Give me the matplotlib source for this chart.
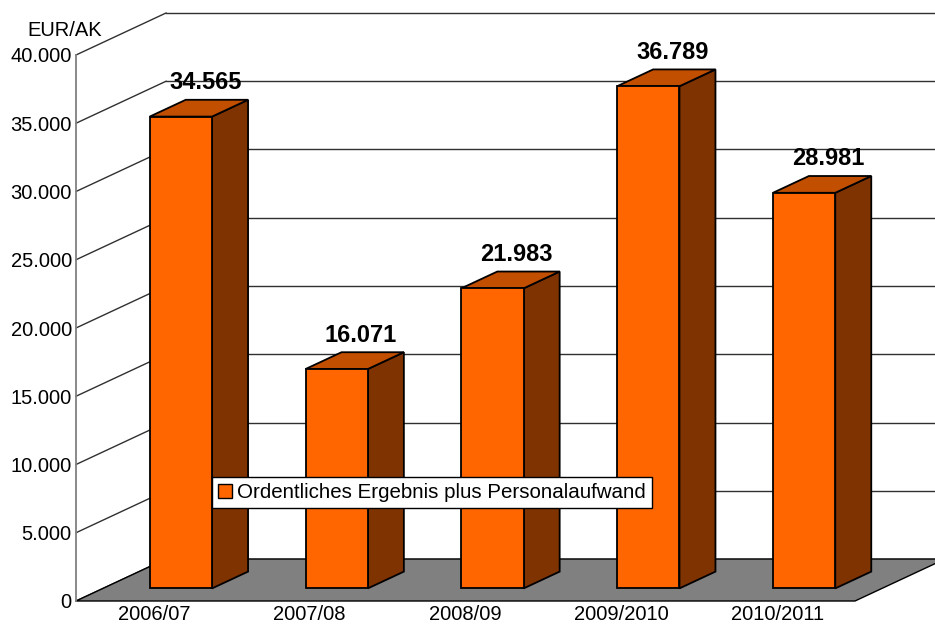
import matplotlib
matplotlib.use("Agg")
import matplotlib.pyplot as plt
from matplotlib.patches import Polygon
from matplotlib.ticker import FuncFormatter

# Daten
jahre = ['2006/07', '2007/08', '2008/09', '2009/2010', '2010/2011']
werte = [34565, 16071, 21983, 36789, 28981]
serie = 'Ordentliches Ergebnis plus Personalaufwand'
y_ticks = [0, 5000, 10000, 15000, 20000, 25000, 30000, 35000, 40000]

plt.rcParams['font.family'] = ['Liberation Sans', 'DejaVu Sans']

W, H = 935, 626
fig = plt.figure(figsize=(W / 100, H / 100), dpi=100)

# Vorderebene des Diagramms (Pixel)
x0, x1 = 76, 855
yb, yt = 601, 55
ax = fig.add_axes([x0 / W, (H - yb) / H, (x1 - x0) / W, (yb - yt) / H])
ax.set_xlim(0, len(jahre))
ax.set_ylim(0, 40000)

# 3D-Tiefe in Datenkoordinaten
DX = 90 / (x1 - x0) * len(jahre)
DY = 42 / (yb - yt) * 40000


def proj(x, v, z):
    return (x + z * DX, v + z * DY)


xr = len(jahre) + 1.0  # läuft rechts aus dem Bild

# Rückwand-Gitterlinien und linke Wand
for t in y_ticks:
    bx, by = proj(0, t, 1)
    ax.plot([bx, xr], [by, by], color='#303030', lw=1, clip_on=False, zorder=1)
    ax.plot([0, bx], [t, by], color='#303030', lw=1, clip_on=False, zorder=1)

# Boden
boden = [proj(0, 0, 0), proj(len(jahre), 0, 0), proj(len(jahre), 0, 1), proj(0, 0, 1)]
ax.add_patch(Polygon(boden, closed=True, facecolor='#808080', edgecolor='black',
                     lw=1, clip_on=False, zorder=2))

# Säulen
bw = 0.4
z0, z1 = 0.3, 0.7
for i, v in enumerate(werte):
    xl = i + 0.5 - bw / 2
    xrr = i + 0.5 + bw / 2
    front = [proj(xl, 0, z0), proj(xrr, 0, z0), proj(xrr, v, z0), proj(xl, v, z0)]
    top = [proj(xl, v, z0), proj(xrr, v, z0), proj(xrr, v, z1), proj(xl, v, z1)]
    side = [proj(xrr, 0, z0), proj(xrr, 0, z1), proj(xrr, v, z1), proj(xrr, v, z0)]
    for poly, col in [(side, '#7F3300'), (top, '#C24E00'), (front, '#FF6600')]:
        ax.add_patch(Polygon(poly, closed=True, facecolor=col, edgecolor='black',
                             lw=1.3, joinstyle='miter', clip_on=False, zorder=3))
    lx, ly = proj(i + 0.5, v, 0.57)
    ax.annotate(f'{v:,}'.replace(',', '.'), (lx, ly), xytext=(0, 8),
                textcoords='offset points', ha='center', va='bottom',
                fontsize=17, fontweight='bold', zorder=5)

# Achsen
for s in ['top', 'right', 'bottom']:
    ax.spines[s].set_visible(False)
ax.spines['left'].set_color('#808080')
ax.spines['left'].set_linewidth(1.3)
ax.set_yticks(y_ticks)
ax.yaxis.set_major_formatter(FuncFormatter(lambda v, p: f'{int(v):,}'.replace(',', '.')))
ax.set_xticks([i + 0.5 for i in range(len(jahre))])
ax.set_xticklabels(jahre)
ax.tick_params(axis='both', length=0, labelsize=14.5, colors='black')
ax.tick_params(axis='y', pad=3)
ax.tick_params(axis='x', pad=3)
ax.patch.set_visible(False)

fig.text(27 / W, 1 - 31 / H, 'EUR/AK', fontsize=14.5, va='center', ha='left')

# Legende
h = Polygon([[0, 0]], facecolor='#FF6600', edgecolor='black')
leg = ax.legend([h], [serie], loc='upper left',
                bbox_to_anchor=(212 / W, 1 - 477 / H), bbox_transform=fig.transFigure,
                fontsize=14.8, frameon=True, fancybox=False, framealpha=1,
                handlelength=0.65, handleheight=0.65, handletextpad=0.25,
                borderpad=0.3, borderaxespad=0)
leg.get_frame().set_edgecolor('black')
leg.get_frame().set_linewidth(1)
leg.set_zorder(10)

fig.savefig('out.png', dpi=100)
